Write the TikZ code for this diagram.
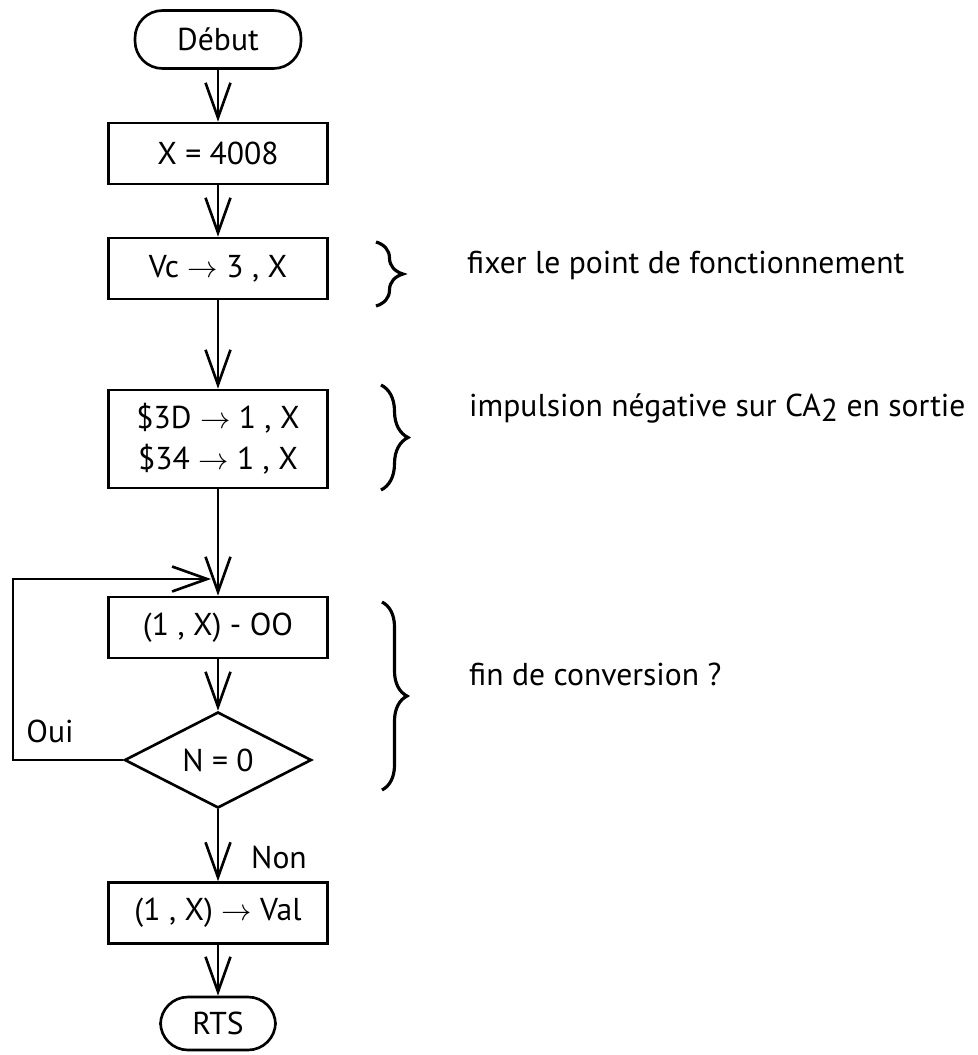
\documentclass[tikz,border=0pt]{standalone}
\usepackage{fontspec}
\setmainfont{PT Sans}
\usetikzlibrary{shapes.geometric,arrows.meta,decorations.pathreplacing}

\begin{document}
\begin{tikzpicture}[
every node/.style={
font=\fontsize{18}{23.5}\selectfont
},
boite/.style={
draw,
line width=1.5pt,
align=center,
minimum width=4.38cm,
minimum height=1.22cm
},
terminal/.style={
draw,
line width=1.5pt,
rounded corners=0.55cm,
minimum height=1.16cm
},
test/.style={
draw,
diamond,
line width=1.5pt,
inner sep=0pt,
minimum width=3.74cm,
minimum height=1.92cm
},
fleche/.style={
line width=1.5pt,
-{Straight Barb[length=7mm,width=5mm]}
},
accolade/.style={
line width=1.8pt,
decorate,
decoration={brace,amplitude=0.54cm}
}
]

\useasboundingbox (0,0) rectangle (19.54,-21.10);

\node[terminal, minimum width=3.32cm] (Deb) at (4.36,-0.79)
{Début};

\node[boite] (Adr) at (4.36,-3.07)
{X = 4008};

\node[boite] (Vc) at (4.36,-5.37)
{Vc $\rightarrow$ 3 , X};

\node[boite, minimum height=1.96cm] (Imp) at (4.36,-8.78)
{\$3D $\rightarrow$ 1 , X\\ \$34 $\rightarrow$ 1 , X};

\node[boite] (Cmp) at (4.36,-12.55)
{(1 , X) - OO};

\node[test] (Tst) at (4.36,-15.20)
{N = 0};

\node[boite] (Val) at (4.36,-18.26)
{(1 , X) $\rightarrow$ Val};

\node[terminal, minimum width=2.3cm, minimum height=1.06cm] (Rts) at (4.36,-20.47)
{RTS};

\draw[fleche] (Deb) -- (Adr);
\draw[fleche] (Adr) -- (Vc);
\draw[fleche] (Vc) -- (Imp);
\draw[fleche] (Imp) -- (Cmp);
\draw[fleche] (Cmp) -- (Tst);
\draw[fleche] (Tst) -- (Val);
\draw[fleche] (Val) -- (Rts);

% boucle d'attente
\coordinate (Gh) at (0.26,-11.58);
\coordinate (Ent) at (4.22,-11.58);
\draw[fleche] (Tst.west) -| (Gh) -- (Ent);

\node (Oui) at (1.0,-14.62) {Oui};
\node (Non) at (5.58,-17.14) {Non};

% commentaires
\draw[accolade] (7.52,-4.84) -- (7.52,-6.12);
\draw[accolade] (7.62,-7.70) -- (7.62,-9.80);
\draw[accolade, decoration={amplitude=0.5cm}] (7.64,-12.04) -- (7.64,-15.80);

\node[anchor=base west] (C1) at (9.22,-5.46)
{fixer le point de fonctionnement};

\node[anchor=base west] (C2) at (9.26,-8.32)
{impulsion négative sur CA\raisebox{-0.35ex}{2} en sortie};

\node[anchor=base west] (C3) at (9.26,-13.70)
{fin de conversion ?};

\end{tikzpicture}
\end{document}
